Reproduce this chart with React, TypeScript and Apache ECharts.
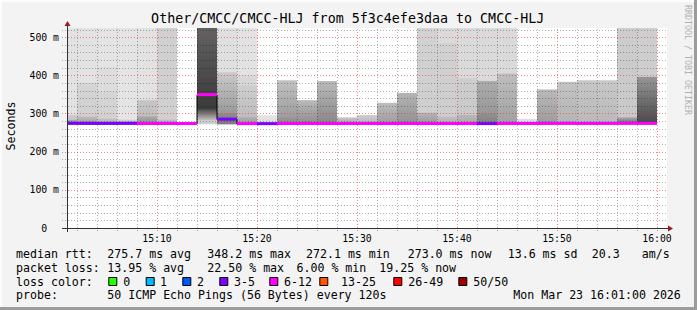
import React, { useEffect, useRef } from 'react';
import * as echarts from 'echarts';

// ---------- data ----------
const chartTitle = 'Other/CMCC/CMCC-HLJ from 5f3c4efe3daa to CMCC-HLJ';
const yAxisName = 'Seconds';
const watermark = 'RRDTOOL / TOBI OETIKER';

// minutes after 15:00
const barStart = [1, 2, 4, 6, 8, 10, 12, 14, 16, 18, 20, 22, 24, 26, 28, 30, 32, 34, 36, 38, 40, 42, 44, 46, 48, 50, 52, 54, 56, 58];
const barEnd = [2, 4, 6, 8, 10, 12, 14, 16, 18, 20, 22, 24, 26, 28, 30, 32, 34, 36, 38, 40, 42, 44, 46, 48, 50, 52, 54, 56, 58, 60];
// median rtt (ms)
const medianRtt = [273.2, 273.0, 272.9, 273.1, 272.6, 272.8, 272.4, 348.2, 284.0, 272.3, 272.1, 272.5, 272.6, 272.4, 272.5, 272.7, 272.5, 272.6, 272.4, 272.5, 272.6, 272.2, 272.8, 272.6, 272.9, 273.0, 272.8, 272.9, 273.1, 273.0];
// loss colour class (index into lossLabels)
const medianLoss = [3, 3, 3, 3, 4, 4, 4, 4, 3, 4, 3, 4, 4, 4, 4, 4, 4, 4, 4, 4, 4, 3, 4, 4, 4, 4, 4, 4, 4, 4];
// smoke bands per bar: [low ms, high ms, grey at top, grey at bottom]
const smokeBands: number[][][] = [
  [[270, 524, 226, 226], [270, 296, 205, 185], [270, 283, 165, 150]],
  [[270, 524, 226, 226], [270, 380, 213, 206], [270, 292, 190, 150]],
  [[270, 524, 228, 228], [270, 422, 221, 219], [270, 357, 213, 208], [270, 287, 195, 170]],
  [[270, 524, 228, 228], [270, 284, 210, 190]],
  [[270, 524, 226, 226], [270, 335, 198, 186], [270, 292, 168, 140]],
  [[270, 524, 208, 208], [270, 284, 192, 175]],
  [],
  [[272, 524, 205, 205], [283, 312, 70, 190], [312, 524, 98, 58]],
  [[272, 524, 223, 223], [272, 408, 202, 140], [272, 300, 140, 125]],
  [[272, 524, 226, 226], [272, 400, 215, 215], [272, 374, 206, 185], [272, 290, 172, 160]],
  [[272, 296, 232, 218]],
  [[272, 387, 193, 150], [272, 290, 150, 140]],
  [[272, 335, 186, 140]],
  [[272, 385, 186, 135]],
  [[272, 290, 200, 160]],
  [[272, 296, 206, 180]],
  [[272, 328, 190, 155]],
  [[272, 354, 180, 145]],
  [[272, 524, 210, 206], [272, 302, 182, 150]],
  [[272, 524, 218, 218], [272, 484, 209, 205], [272, 292, 190, 175]],
  [[272, 524, 218, 218], [272, 392, 205, 200], [272, 296, 182, 170]],
  [[272, 524, 218, 218], [272, 385, 172, 145], [272, 300, 145, 128]],
  [[272, 524, 218, 218], [272, 405, 190, 160]],
  [[272, 286, 226, 210]],
  [[272, 363, 186, 155]],
  [[272, 383, 195, 180]],
  [[272, 387, 198, 185]],
  [[272, 387, 200, 185]],
  [[272, 524, 205, 200], [272, 290, 170, 100]],
  [[272, 524, 206, 206], [272, 396, 150, 72]],
];

const yMin = 0;
const yMax = 524;
const yLabelValues = [0, 100, 200, 300, 400, 500];
const xMin = 1;
const xMax = 61;
const xLabelMinutes = [10, 20, 30, 40, 50, 60];
const xLabels = ['15:10', '15:20', '15:30', '15:40', '15:50', '16:00'];

const lossLabels = ['0', '1', '2', '3-5', '6-12', '13-25', '26-49', '50/50'];
const lossColors = ['#26ff00', '#00b8ff', '#0059ff', '#7e00ff', '#ff00ff', '#ff5500', '#ff0000', '#a10000'];

const rttLabel = 'median rtt:';
const rttStats = ['275.7 ms avg', '348.2 ms max', '272.1 ms min', '273.0 ms now', '13.6 ms sd', '20.3', 'am/s'];
const lossLabel = 'packet loss:';
const lossStats = ['13.95 % avg', '22.50 % max', '6.00 % min', '19.25 % now'];
const lossColorLabel = 'loss color:';
const probeLabel = 'probe:';
const probeText = '50 ICMP Echo Pings (56 Bytes) every 120s';
const stampText = 'Mon Mar 23 16:01:00 2026';

// ---------- layout (pixels) ----------
const W = 697;
const H = 310;
const MONO = "'DejaVu Sans Mono', monospace";
const rttX = [107.3, 207.3, 306, 407.7, 507.7, 591.7, 641.7];
const lossX = [107.3, 207.3, 296.5, 379.3];
const boxX = [108.3, 145.7, 182.3, 219.3, 269.3, 319.3, 393.3, 458.3];
const boxLabelX = [123.3, 160, 197, 234, 284, 341, 408.3, 473.3];
const rowY = [254.3, 267.9, 281.6, 295.3];

function grey(v: number) {
  return `rgb(${v},${v},${v})`;
}

export default function App() {
  const ref = useRef<HTMLDivElement>(null);

  useEffect(() => {
    if (!ref.current) return;
    const chart = echarts.init(ref.current, undefined, { renderer: 'svg' });

    const smokeData: number[][] = [];
    smokeBands.forEach((bands, i) => {
      bands.forEach((b) => smokeData.push([barStart[i], barEnd[i], b[0], b[1], b[2], b[3]]));
    });

    const medianData: number[][] = barStart.map((s, i) => [s, barEnd[i], medianRtt[i], medianLoss[i]]);
    const stepData: number[][] = [];
    barStart.forEach((s, i) => {
      stepData.push([s, medianRtt[i]]);
      stepData.push([barEnd[i], medianRtt[i]]);
    });

    // grid lines: [value, orientation 0=horizontal 1=vertical, major]
    const gridData: number[][] = [];
    for (let v = 20; v < yMax; v += 20) gridData.push([v, 0, v % 100 === 0 ? 1 : 0]);
    for (let m = 2; m <= 60; m += 2) gridData.push([m, 1, m % 10 === 0 ? 1 : 0]);

    const textStyle = (text: string, size: number, align: string, extra: any = {}) => ({
      text,
      fontFamily: MONO,
      fontSize: size,
      fill: '#000',
      textAlign: align,
      align,
      textVerticalAlign: 'middle',
      verticalAlign: 'middle',
      ...extra,
    });

    const graphics: any[] = [];
    // frame
    graphics.push({ type: 'rect', shape: { x: 0, y: 0, width: W, height: 2 }, style: { fill: '#fcfcfc' }, silent: true });
    graphics.push({ type: 'rect', shape: { x: 0, y: 0, width: 2, height: H }, style: { fill: '#fcfcfc' }, silent: true });
    graphics.push({ type: 'rect', shape: { x: 0, y: H - 3, width: W, height: 3 }, style: { fill: '#9c9c9c' }, silent: true });
    graphics.push({ type: 'rect', shape: { x: W - 3, y: 0, width: 3, height: H }, style: { fill: '#9c9c9c' }, silent: true });
    // title
    graphics.push({ type: 'text', x: 347.7, y: 18.9, style: textStyle(chartTitle, 13.33, 'center') });
    // y axis name
    graphics.push({ type: 'text', x: 11, y: 126, rotation: Math.PI / 2, style: textStyle(yAxisName, 11.6, 'center') });
    // watermark
    graphics.push({
      type: 'text', x: 687.5, y: 60, rotation: -Math.PI / 2,
      style: textStyle(watermark, 8.3, 'center', { fill: '#b0b0b0' }),
    });
    // axes lines and arrows
    graphics.push({ type: 'line', shape: { x1: 67.5, y1: 232, x2: 67.5, y2: 25 }, style: { stroke: '#333', lineWidth: 1 }, z: 10 });
    graphics.push({ type: 'line', shape: { x1: 62, y1: 228.5, x2: 668, y2: 228.5 }, style: { stroke: '#333', lineWidth: 1 }, z: 10 });
    graphics.push({ type: 'polygon', shape: { points: [[64.5, 26], [70.5, 26], [67.5, 21]] }, style: { fill: '#9b1b1b' }, z: 10 });
    graphics.push({ type: 'polygon', shape: { points: [[668, 225.5], [668, 231.5], [673, 228.5]] }, style: { fill: '#9b1b1b' }, z: 10 });
    // legend rows
    graphics.push({ type: 'text', x: 16, y: rowY[0], style: textStyle(rttLabel, 11.6, 'left') });
    rttStats.forEach((t, i) => graphics.push({ type: 'text', x: rttX[i], y: rowY[0], style: textStyle(t, 11.6, 'left') }));
    graphics.push({ type: 'text', x: 16, y: rowY[1], style: textStyle(lossLabel, 11.6, 'left') });
    lossStats.forEach((t, i) => graphics.push({ type: 'text', x: lossX[i], y: rowY[1], style: textStyle(t, 11.6, 'left') }));
    graphics.push({ type: 'text', x: 16, y: rowY[2], style: textStyle(lossColorLabel, 11.6, 'left') });
    lossLabels.forEach((t, i) => {
      graphics.push({
        type: 'rect', shape: { x: boxX[i] + 0.5, y: 277.5, width: 8, height: 8 },
        style: { fill: lossColors[i], stroke: '#000', lineWidth: 1 },
      });
      graphics.push({ type: 'text', x: boxLabelX[i], y: rowY[2], style: textStyle(t, 11.6, 'left') });
    });
    graphics.push({ type: 'text', x: 16, y: rowY[3], style: textStyle(probeLabel, 11.6, 'left') });
    graphics.push({ type: 'text', x: 107.3, y: rowY[3], style: textStyle(probeText, 11.6, 'left') });
    graphics.push({ type: 'text', x: 513.3, y: rowY[3], style: textStyle(stampText, 11.6, 'left') });

    const option: any = {
      animation: false,
      backgroundColor: '#f3f3f3',
      grid: { left: 67, top: 28, width: 600, height: 200, show: true, backgroundColor: '#ffffff', borderWidth: 0 },
      xAxis: {
        type: 'value', min: xMin, max: xMax, interval: 1,
        axisLine: { show: false }, axisTick: { show: false }, splitLine: { show: false },
        axisLabel: {
          interval: 0, margin: 5, fontFamily: MONO, fontSize: 9.8, color: '#000',
          formatter: (v: number) => {
            const k = xLabelMinutes.indexOf(Math.round(v));
            return k >= 0 ? xLabels[k] : '';
          },
        },
      },
      yAxis: {
        type: 'value', min: yMin, max: yMax, interval: 20,
        axisLine: { show: false }, axisTick: { show: false }, splitLine: { show: false },
        axisLabel: {
          interval: 0, margin: 8, fontFamily: MONO, fontSize: 9.8, color: '#000',
          formatter: (v: number) => {
            if (yLabelValues.indexOf(v) < 0) return '';
            return v === 0 ? '0\u00a0\u00a0' : v + ' m';
          },
        },
      },
      series: [
        {
          type: 'custom', name: 'smoke', z: 1, silent: true,
          data: smokeData,
          encode: { x: [0, 1], y: [2, 3] },
          renderItem: (params: any, api: any) => {
            const p1 = api.coord([api.value(0), api.value(3)]);
            const p2 = api.coord([api.value(1), api.value(2)]);
            const gt = api.value(4);
            const gb = api.value(5);
            const fill = gt === gb
              ? grey(gt)
              : new echarts.graphic.LinearGradient(0, 0, 0, 1, [
                  { offset: 0, color: grey(gt) },
                  { offset: 1, color: grey(gb) },
                ]);
            return {
              type: 'rect',
              shape: { x: p1[0], y: p1[1], width: p2[0] - p1[0], height: p2[1] - p1[1] },
              style: { fill },
            };
          },
        },
        {
          type: 'custom', name: 'grid', z: 3, silent: true,
          data: gridData,
          renderItem: (params: any, api: any) => {
            const v = api.value(0);
            const orient = api.value(1);
            const major = api.value(2);
            const stroke = major ? 'rgba(225,40,40,0.55)' : 'rgba(0,0,0,0.3)';
            if (orient === 0) {
              const a = api.coord([xMin, v]);
              const b = api.coord([xMax, v]);
              const y = Math.round(a[1]) + 0.5;
              return { type: 'line', shape: { x1: a[0] - 5, y1: y, x2: b[0] + 1, y2: y }, style: { stroke, lineWidth: 1, lineDash: [1, 2] } };
            }
            const a = api.coord([v, yMin]);
            const b = api.coord([v, yMax]);
            const x = Math.round(a[0]) + 0.5;
            return { type: 'line', shape: { x1: x, y1: a[1] + 3, x2: x, y2: b[1] }, style: { stroke, lineWidth: 1, lineDash: [1, 2] } };
          },
        },
        {
          type: 'line', name: 'median step', z: 4, silent: true,
          data: stepData, symbol: 'none',
          lineStyle: { color: '#000', width: 1 },
        },
        {
          type: 'custom', name: 'median', z: 5, silent: true,
          data: medianData,
          encode: { x: [0, 1], y: 2 },
          renderItem: (params: any, api: any) => {
            const p1 = api.coord([api.value(0), api.value(2)]);
            const p2 = api.coord([api.value(1), api.value(2)]);
            return {
              type: 'rect',
              shape: { x: p1[0], y: p1[1] - 2, width: p2[0] - p1[0], height: 3 },
              style: { fill: lossColors[api.value(3)] },
            };
          },
        },
      ],
      graphic: { elements: graphics },
    };

    chart.setOption(option);
    return () => chart.dispose();
  }, []);

  return <div ref={ref} style={{ position: 'fixed', left: 0, top: 0, width: W, height: H }} />;
}
